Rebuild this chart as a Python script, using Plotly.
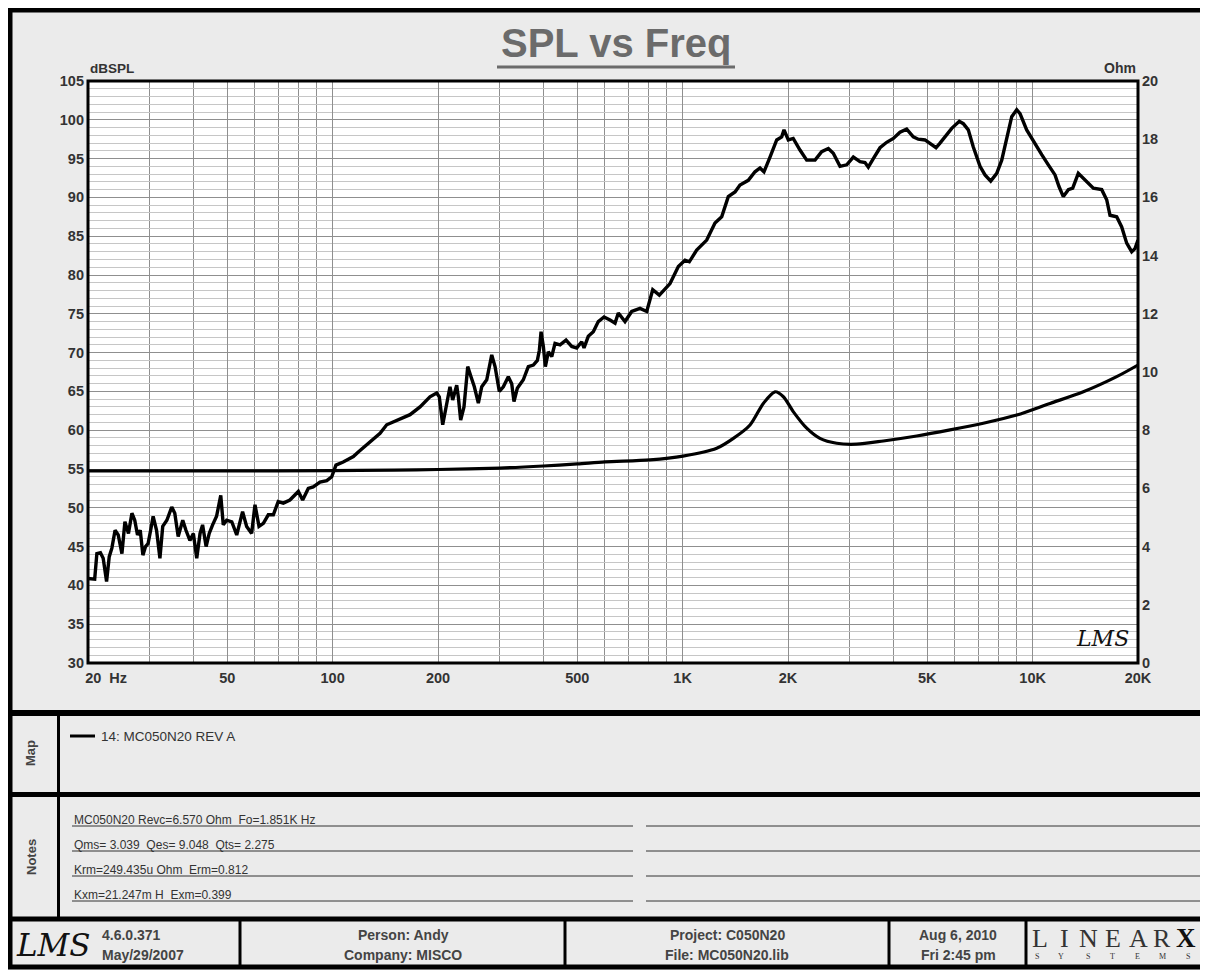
import numpy as np
import plotly.graph_objects as go

# ---------------- data ----------------
spl_freq = [20, 20.9, 21.2, 21.7, 22.1, 22.6, 23.0, 23.4, 23.9, 24.4, 25.0, 25.5, 26.1, 26.7,
            27.2, 27.7, 28.2, 28.7, 29.2, 29.7, 30.2, 30.7, 31.4, 32.1, 32.7, 33.6, 34.7, 35.4,
            36.2, 37.3, 38.1, 39.1, 40.0, 40.9, 41.8, 42.5, 43.5, 44.4, 45.4, 46.6, 47.9, 48.7,
            49.8, 51.5, 53.2, 55.3, 56.8, 58.7, 60.0, 61.6, 63.4, 65.5, 67.7, 69.9, 72.3, 75.5,
            79.8, 82.1, 85.2, 88.0, 92.0, 96.2, 99.4, 102.2, 107.2, 114.6, 118.4,
            136.6, 142.7, 155.8, 166.4, 177.7, 189.7, 198.3, 201.7, 206.3, 211.8, 216.4, 220.3,
            226.2, 228.6, 232.2, 237.3, 243.2, 248.5, 254.0, 260.8, 266.7, 275.6, 284.8, 291.1,
            299.4, 307.4, 317.6, 324.8, 329.7, 337.0, 350.6, 362.3, 374.5, 384.5, 389.6, 394.0,
            400.0, 405.3, 413.3, 422.7, 431.9, 446.4, 464.4, 482.0, 498.2, 514.9, 522.7, 537.6,
            555.6, 574.1, 596.2, 620.2, 641.0, 655.0, 684.4, 715.2, 755.5, 789.6, 821.4, 857.9,
            920.4, 972.1, 1015.7, 1044.8, 1096.8, 1171.4, 1237.2, 1293.0, 1350.2, 1411.2, 1458.4,
            1540.2, 1609.6, 1663.6, 1707.8, 1776.8, 1856.8, 1918.8, 1948.2, 2004, 2070, 2164,
            2262, 2389, 2496, 2608, 2694, 2816, 2943, 3074, 3212, 3319, 3392, 3506, 3664, 3828,
            4000, 4178, 4366, 4560, 4712, 4926, 5090, 5296, 5436, 5618, 5872, 6172, 6338, 6548,
            6768, 7074, 7310, 7590, 7896, 8160, 8432, 8714, 9006, 9204, 9616, 10044, 10616,
            11086, 11586, 11894, 12236, 12646, 13016, 13504, 14114, 14906, 15752, 16278, 16636,
            17384, 17966, 18566, 19188, 19608, 20000]
spl_db = [40.9, 40.8, 44.1, 44.2, 43.5, 40.5, 43.7, 44.8, 47.1, 46.5, 44.1, 48.2, 46.7, 49.3,
          48.4, 46.5, 47.1, 43.9, 45.0, 45.4, 47.1, 48.9, 47.1, 43.5, 47.6, 48.4, 50.1, 49.3,
          46.3, 48.4, 47.1, 45.8, 46.7, 43.5, 46.7, 47.8, 45.0, 46.7, 47.8, 48.9, 51.6, 47.8,
          48.4, 48.2, 46.5, 49.5, 47.6, 46.7, 50.4, 47.6, 48.0, 49.1, 49.1, 50.8, 50.6, 51.0,
          52.1, 51.0, 52.5, 52.7, 53.3, 53.5, 54.0, 55.5, 55.9, 56.6, 57.2,
          59.6, 60.7, 61.5, 62.0, 63.0, 64.3, 64.8, 64.3, 60.7, 63.5, 65.6, 63.9,
          65.8, 64.3, 61.3, 63.0, 68.2, 66.9, 65.6, 63.5, 65.6, 66.5, 69.7, 68.2,
          65.0, 65.6, 66.9, 66.0, 63.7, 65.4, 66.5, 68.2, 68.4, 69.0, 70.3, 72.7,
          70.8, 68.2, 70.1, 69.5, 71.2, 71.0, 71.6, 70.8, 70.6, 71.4, 70.6, 72.1,
          72.7, 74.0, 74.6, 74.2, 73.8, 75.1, 74.0, 75.3, 75.7, 75.3, 78.1, 77.4,
          78.9, 81.1, 81.9, 81.7, 83.2, 84.5, 86.7, 87.5, 90.1, 90.7, 91.6,
          92.2, 93.3, 93.8, 93.3, 95.2, 97.4, 97.8, 98.7, 97.4, 97.6, 96.1,
          94.8, 94.8, 95.9, 96.3, 95.7, 94.0, 94.2, 95.2, 94.6, 94.5, 93.9, 95.0, 96.4, 97.1,
          97.6, 98.4, 98.8, 97.8, 97.5, 97.4, 97.0, 96.4, 97.0, 97.8, 98.9, 99.8, 99.5, 98.7,
          96.5, 94.0, 92.9, 92.1, 93.1, 94.8, 97.4, 100.4, 101.3, 100.8, 98.7, 97.2, 95.5,
          94.2, 92.9, 91.4, 90.1, 91.0, 91.2, 93.1, 92.2, 91.2, 91.0, 89.7, 87.7,
          87.5, 86.2, 84.1, 83.0, 83.4, 84.5]

imp_freq = [20, 50, 100, 150, 200, 300, 400, 500, 600, 807, 1002, 1251, 1396, 1558, 1700,
            1836, 1940, 2070, 2262, 2468, 2756, 3142, 3744, 4664, 5808, 7228, 9006, 11212,
            13960, 17384, 20000]
imp_ohm = [6.60, 6.60, 6.61, 6.63, 6.65, 6.70, 6.77, 6.84, 6.91, 6.98, 7.11, 7.38, 7.72, 8.18,
           8.92, 9.32, 9.15, 8.64, 8.07, 7.72, 7.55, 7.52, 7.63, 7.80, 8.01, 8.24, 8.52, 8.92,
           9.32, 9.84, 10.24]

x_tickvals = [20, 50, 100, 200, 500, 1000, 2000, 5000, 10000, 20000]
x_ticktext = ["\u00a0" * 9 + "20  Hz", "50", "100", "200", "500", "1K", "2K", "5K", "10K", "20K"]
x_gridvals = [m * d for d in (10, 100, 1000) for m in range(2, 10)] + [10000, 20000]
y_tickvals = list(range(30, 106, 5))
y2_tickvals = list(range(0, 21, 2))

notes = ["MC050N20 Revc=6.570 Ohm  Fo=1.851K Hz",
         "Qms= 3.039  Qes= 9.048  Qts= 2.275",
         "Krm=249.435u Ohm  Erm=0.812",
         "Kxm=21.247m H  Exm=0.399"]
legend_label = "14: MC050N20 REV A"

# ---------------- layout helpers (screen pixel coordinates) ----------------
OFF = 8                      # page body margin
W, H = 1208 - OFF, 970 - OFF
L, R, T, B = 88, 1138, 81, 663
FONT = "Liberation Sans, Arial, sans-serif"


def px(x):
    return (x - L) / (R - L)


def py(y):
    return (B - y) / (B - T)


shapes = []
annotations = []


def hline(x0, x1, y, w=1, color="black"):
    shapes.append(dict(type="line", xref="paper", yref="paper", x0=px(x0), x1=px(x1),
                       y0=py(y), y1=py(y), line=dict(color=color, width=w), layer="above"))


def vline(x, y0, y1, w=1, color="black"):
    shapes.append(dict(type="line", xref="paper", yref="paper", x0=px(x), x1=px(x),
                       y0=py(y0), y1=py(y1), line=dict(color=color, width=w), layer="above"))


def rect(x0, y0, x1, y1, fill=None, lw=0, lc="black", layer="above"):
    shapes.append(dict(type="rect", xref="paper", yref="paper", x0=px(x0), x1=px(x1),
                       y0=py(y0), y1=py(y1), fillcolor=fill if fill else "rgba(0,0,0,0)",
                       line=dict(color=lc, width=lw), layer=layer))


def text(x, y, s, size=12, color="#333", bold=False, xa="center", ya="middle", angle=0,
         family=FONT, italic=False):
    annotations.append(dict(xref="paper", yref="paper", x=px(x), y=py(y), text=s,
                            showarrow=False, xanchor=xa, yanchor=ya, textangle=angle,
                            font=dict(family=family, size=size, color=color,
                                      weight="bold" if bold else "normal",
                                      style="italic" if italic else "normal")))


# outer frame and panel dividers
rect(10, 10, 1218, 967, lw=5)
hline(8, 1216, 713, 6)
hline(8, 1216, 794.5, 5)
hline(8, 1216, 919, 5)
vline(58.5, 713, 919, 3)
for xd in (240, 565, 889, 1026):
    vline(xd, 919, 967, 3)

# plot frame
shapes.append(dict(type="rect", xref="paper", yref="paper", x0=0, x1=1, y0=0, y1=1,
                   line=dict(color="black", width=3), layer="above"))

# title
text(616, 43, "SPL vs Freq", size=40, color="#6b6b6b", bold=True)
hline(497, 735, 67, 3, color="#6b6b6b")

# axis unit labels
text(88, 68, "dBSPL", size=13.5, bold=True, xa="left")
text(1138, 68, "Ohm", size=14, bold=True, xa="right")

# LMS marks
text(1102, 638, "LMS", size=22, color="#111", italic=True, family="DejaVu Serif")
text(53, 945, "LMS", size=31, color="#111", italic=True, family="DejaVu Serif")

# map panel
text(31, 753, "Map", size=13, bold=True, color="#444", angle=-90)
hline(70, 95, 736, 3)
text(99, 736, legend_label, size=13.5, color="#333", xa="left")

# notes panel
text(31, 857, "Notes", size=13, bold=True, color="#444", angle=-90)
for i, s in enumerate(notes):
    yl = 826 + 25 * i
    text(72, yl - 6.5, s, size=12, color="#333", xa="left")
    hline(72, 633, yl, 1, color="#333")
    hline(646, 1216, yl, 1, color="#333")

# footer
text(100, 935, "4.6.0.371", size=14, bold=True, color="#444", xa="left")
text(100, 955, "May/29/2007", size=14, bold=True, color="#444", xa="left")
text(403, 935, "Person: Andy", size=14, bold=True, color="#444")
text(403, 955, "Company: MISCO", size=14, bold=True, color="#444")
text(727, 935, "Project: C050N20", size=14, bold=True, color="#444")
text(727, 955, "File: MC050N20.lib", size=14, bold=True, color="#444")
text(958, 935, "Aug 6, 2010", size=14, bold=True, color="#444")
text(958, 955, "Fri 2:45 pm", size=14, bold=True, color="#444")
for ch, xc in zip("LINEAR", (1040, 1064, 1088, 1113, 1138, 1162)):
    text(xc, 938, ch, size=26, color="#333", family="Liberation Serif, serif")
text(1186, 938, "X", size=27, color="#111", bold=True, family="Liberation Serif, serif")
for ch, xc in zip("SYSTEMS", (1037, 1061, 1088, 1112, 1137, 1162, 1188)):
    text(xc, 956, ch, size=8, color="#333", family="Liberation Serif, serif")

# ---------------- figure ----------------
fig = go.Figure()
fig.add_trace(go.Scatter(x=imp_freq, y=imp_ohm, mode="lines", yaxis="y2",
                         line=dict(color="black", width=3.2, shape="spline", smoothing=0.8),
                         hoverinfo="skip"))
fig.add_trace(go.Scatter(x=spl_freq, y=spl_db, mode="lines",
                         line=dict(color="black", width=3.4), hoverinfo="skip"))

tickfont = dict(family=FONT, size=14.5, color="#333", weight="bold")
fig.update_layout(
    width=W, height=H, autosize=False,
    margin=dict(l=L - OFF, r=(W + OFF) - R, t=T - OFF, b=(H + OFF) - B, pad=0),
    paper_bgcolor="#ebebeb", plot_bgcolor="white",
    showlegend=False,
    xaxis=dict(type="log", range=[np.log10(20), np.log10(20000)],
               tickmode="array", tickvals=x_tickvals, ticktext=x_ticktext,
               tickfont=tickfont, ticks="", showline=False, zeroline=False,
               showgrid=True, gridcolor="#8f8f8f", gridwidth=1,
               minor=dict(tickmode="array", tickvals=x_gridvals, showgrid=True,
                          gridcolor="#8f8f8f", gridwidth=1, ticks=""),
               ticklabelstandoff=4),
    yaxis=dict(range=[30, 105], tickmode="array", tickvals=y_tickvals,
               tickfont=tickfont, ticks="", showline=False, zeroline=False,
               showgrid=True, gridcolor="#8f8f8f", gridwidth=1,
               minor=dict(dtick=1, showgrid=True, gridcolor="#c6c6c6", gridwidth=1, ticks=""),
               ticklabelstandoff=3),
    yaxis2=dict(range=[0, 20], overlaying="y", side="right", tickmode="array",
                tickvals=y2_tickvals, tickfont=tickfont, ticks="", showgrid=False,
                zeroline=False, showline=False, ticklabelstandoff=3),
    shapes=shapes,
    annotations=annotations,
)

fig.write_html("out.html", config={"displayModeBar": False})
